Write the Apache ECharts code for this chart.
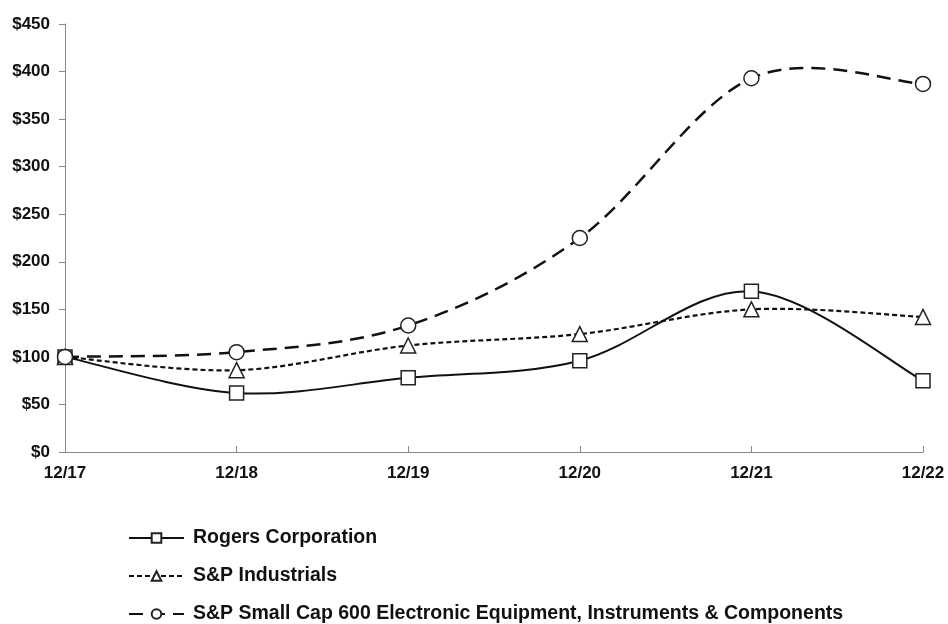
<!DOCTYPE html>
<html>
<head>
<meta charset="utf-8">
<script src="https://cdn.jsdelivr.net/npm/echarts@6/dist/echarts.min.js"></script>
<style>html,body{margin:0;padding:0;background:#fff}#c{width:948px;height:624px}</style>
</head>
<body>
<div id="c"></div>
<script>
var categories = ['12/17', '12/18', '12/19', '12/20', '12/21', '12/22'];
var rogers = [100, 62, 78, 96, 169, 75];
var industrials = [100, 86, 112, 124, 150, 142];
var smallCap = [100, 105, 133, 225, 393, 387];
var yTicks = {min: 0, max: 450, interval: 50};
var names = ['Rogers Corporation', 'S&P Industrials', 'S&P Small Cap 600 Electronic Equipment, Instruments & Components'];

var chart = echarts.init(document.getElementById('c'));
var axisFont = {fontFamily: 'Liberation Sans, Arial', fontWeight: 'bold', fontSize: 17, color: '#111'};

function markers(name, data, symbol, dash, width, size) {
  return {
    name: name, type: 'line', data: data, smooth: false,
    symbol: symbol, symbolSize: size, showSymbol: true,
    itemStyle: {color: '#fff', borderColor: '#222', borderWidth: 1.5},
    lineStyle: {color: '#111', width: width, type: dash, opacity: 0},
    emphasis: {disabled: true}, z: 4
  };
}
// smooth curve (Excel-like cubic Bezier smoothing) drawn through the axes' own scales
function curve(values, dash, width) {
  return {
    type: 'custom', coordinateSystem: 'cartesian2d', silent: true, z: 3,
    data: [[0, values[0]]],
    renderItem: function (params, api) {
      var p = values.map(function (v, i) { return api.coord([i, v]); });
      var d = 'M' + p[0][0] + ' ' + p[0][1];
      for (var i = 0; i < p.length - 1; i++) {
        var p0 = p[Math.max(i - 1, 0)], p1 = p[i], p2 = p[i + 1], p3 = p[Math.min(i + 2, p.length - 1)];
        var c1x = p1[0] + (p2[0] - p0[0]) / 6, c1y = p1[1] + (p2[1] - p0[1]) / 6;
        var c2x = p2[0] - (p3[0] - p1[0]) / 6, c2y = p2[1] - (p3[1] - p1[1]) / 6;
        d += ' C' + c1x + ' ' + c1y + ' ' + c2x + ' ' + c2y + ' ' + p2[0] + ' ' + p2[1];
      }
      return {
        type: 'path',
        shape: {pathData: d},
        style: {fill: null, stroke: '#111', lineWidth: width, lineDash: dash}
      };
    }
  };
}

chart.setOption({
  animation: false,
  grid: {left: 65, right: 25, top: 24, bottom: 172, containLabel: false},
  xAxis: {
    type: 'category', data: categories, boundaryGap: false,
    axisLine: {lineStyle: {color: '#888', width: 1}},
    axisTick: {inside: true, length: 6, lineStyle: {color: '#888'}, alignWithLabel: true},
    axisLabel: Object.assign({margin: 13}, axisFont),
    splitLine: {show: false}
  },
  yAxis: {
    type: 'value', min: yTicks.min, max: yTicks.max, interval: yTicks.interval,
    axisLine: {show: true, lineStyle: {color: '#888', width: 1}},
    axisTick: {show: true, length: 6, lineStyle: {color: '#888'}},
    axisLabel: Object.assign({margin: 15, formatter: function (v) { return '$' + v; }}, axisFont),
    splitLine: {show: false}
  },
  legend: {
    orient: 'vertical', left: 128, top: 528, itemGap: 18, padding: 0,
    itemWidth: 55, itemHeight: 12,
    lineStyle: {opacity: 1},
    textStyle: {fontFamily: 'Liberation Sans, Arial', fontWeight: 'bold', fontSize: 19.5, color: '#111', lineHeight: 20, padding: [0, 0, 0, 4]},
    data: names
  },
  series: [
    curve(rogers, null, 2),
    curve(industrials, [5, 3], 2.2),
    curve(smallCap, [14, 8], 2.5),
    markers(names[0], rogers, 'rect', 'solid', 2, 14),
    markers(names[1], industrials, 'triangle', [5, 3], 2.2, 15),
    markers(names[2], smallCap, 'circle', [14, 8], 2.5, 15)
  ]
});
</script>
</body>
</html>
